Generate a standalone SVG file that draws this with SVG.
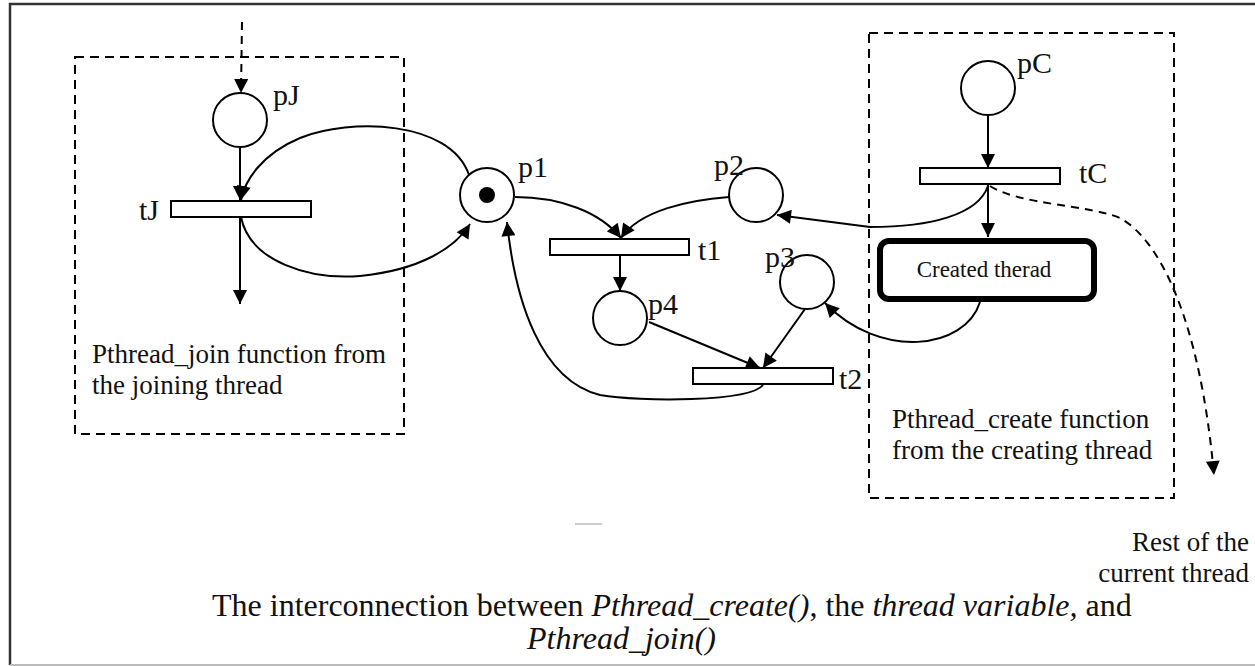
<svg xmlns="http://www.w3.org/2000/svg" width="1255" height="666" viewBox="0 0 1255 666">
<defs>
<marker id="ah" viewBox="0 0 10 10" refX="10" refY="5" markerWidth="15" markerHeight="14" markerUnits="userSpaceOnUse" orient="auto"><path d="M0,0 L10,5 L0,10 z" fill="#000"/></marker>
<style>
.pl{fill:#fff;stroke:#000;stroke-width:2}
.tr{fill:#fff;stroke:#000;stroke-width:2}
.arc{fill:none;stroke:#000;stroke-width:2;marker-end:url(#ah)}
.darc{fill:none;stroke:#000;stroke-width:2;stroke-dasharray:8,6;marker-end:url(#ah)}
.box{fill:none;stroke:#000;stroke-width:2;stroke-dasharray:9,6}
text{font-family:"Liberation Serif","Times New Roman",serif;fill:#111}
.lbl{font-size:30px}
.txt{font-size:27px}
.cap{font-size:32px}
</style>
</defs>
<rect x="0" y="0" width="1255" height="666" fill="#fff"/>
<path d="M10,665 L10,4 L1255,4" fill="none" stroke="#333" stroke-width="2.5"/>
<line x1="10" y1="665" x2="1255" y2="665" stroke="#bbb" stroke-width="2"/>
<line x1="575" y1="524" x2="602" y2="524" stroke="#ccc" stroke-width="2"/>

<g id="boxJ"><rect class="box" x="75" y="57" width="329" height="377"/>
<text class="txt" x="92" y="363">Pthread_join function from</text>
<text class="txt" x="92" y="394">the joining thread</text></g>
<g id="boxC"><rect class="box" x="869" y="33" width="305" height="465"/>
<text class="txt" x="892" y="428">Pthread_create function</text>
<text class="txt" x="892" y="459">from the creating thread</text></g>

<g id="connectors">
<path class="darc" d="M242,22 L241,93"/>
<path class="arc" d="M240,148 L240,200"/>
<path class="arc" d="M240,217 L240,304"/>
<path class="arc" d="M469,175 C450,120 350,118 300,138 C262,154 245,180 241,200"/>
<path class="arc" d="M241,217 C250,262 310,280 360,276 C420,270 455,248 470,224"/>
<path class="arc" d="M515,197 C560,197 600,212 621,238"/>
<path class="arc" d="M729,197 C690,200 640,210 621,238"/>
<path class="arc" d="M620,255 L620,291"/>
<path class="arc" d="M649,322 L760,368"/>
<path class="arc" d="M805,309 L763,368"/>
<path class="arc" d="M763,385 C750,402 640,402 600,395 C540,380 515,300 507,222"/>
<path class="arc" d="M988,115 L988,168"/>
<path class="arc" d="M988,184 L988,237"/>
<path class="arc" d="M988,186 C978,215 930,227 870,227 L777,215"/>
<path class="darc" d="M990,186 C1020,205 1090,205 1120,218 C1160,240 1200,320 1214,475"/>
<path class="arc" d="M980,302 C965,350 880,360 825,303"/>
</g>

<g id="pJ"><circle class="pl" cx="240" cy="120" r="27"/><text class="lbl" x="273" y="105">pJ</text></g>
<g id="tJ"><rect class="tr" x="171" y="201" width="140" height="16"/><text class="lbl" x="139" y="220">tJ</text></g>
<g id="p1"><circle class="pl" cx="487" cy="195" r="27"/><circle cx="487" cy="195" r="8" fill="#000"/><text class="lbl" x="518" y="177">p1</text></g>
<g id="p2"><circle class="pl" cx="756" cy="195" r="27"/><text class="lbl" x="714" y="175">p2</text></g>
<g id="t1"><rect class="tr" x="550" y="239" width="139" height="16"/><text class="lbl" x="698" y="260">t1</text></g>
<g id="p4"><circle class="pl" cx="620" cy="318" r="27"/><text class="lbl" x="648" y="314">p4</text></g>
<g id="p3"><circle class="pl" cx="807" cy="282" r="27"/><text class="lbl" x="765" y="267">p3</text></g>
<g id="t2"><rect class="tr" x="693" y="368" width="140" height="16"/><text class="lbl" x="839" y="389">t2</text></g>
<g id="pC"><circle class="pl" cx="988" cy="88" r="27"/><text class="lbl" x="1017" y="73">pC</text></g>
<g id="tC"><rect class="tr" x="920" y="168" width="140" height="16"/><text class="lbl" x="1079" y="183">tC</text></g>
<g id="created"><rect x="880" y="241" width="214" height="58" rx="9" fill="#fff" stroke="#000" stroke-width="6"/><text x="984" y="277" text-anchor="middle" font-size="23">Created therad</text></g>
<g id="rest"><text class="txt" x="1249" y="551" text-anchor="end">Rest of the</text><text class="txt" x="1249" y="582" text-anchor="end">current thread</text></g>
<g id="caption">
<text class="cap" x="212" y="616">The interconnection between <tspan font-style="italic">Pthread_create()</tspan>, the <tspan font-style="italic">thread variable,</tspan> and</text>
<text class="cap" x="527" y="649" font-size="30" font-style="italic">Pthread_join()</text>
</g>
</svg>
